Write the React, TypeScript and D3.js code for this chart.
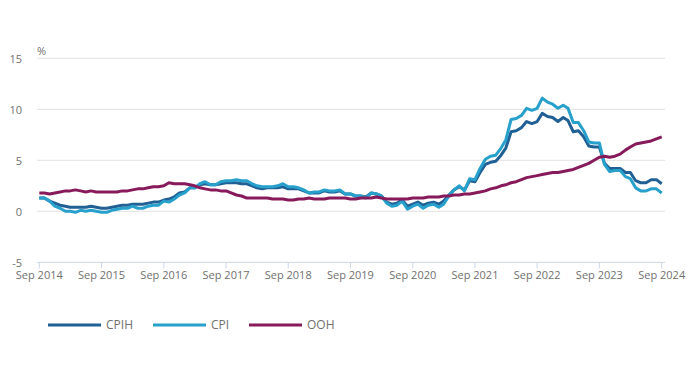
import React from 'react';
import * as d3 from 'd3';

// monthly annual rates, Sep 2014 .. Sep 2024
const cpih = [
	1.3, 1.3, 1.0, 0.8,
	0.6, 0.5, 0.4, 0.4, 0.4, 0.4, 0.5, 0.4, 0.3, 0.3, 0.4, 0.5,
	0.6, 0.6, 0.7, 0.7, 0.7, 0.8, 0.9, 0.9, 1.1, 1.2, 1.4, 1.8,
	1.9, 2.3, 2.3, 2.6, 2.7, 2.6, 2.6, 2.7, 2.8, 2.8, 2.8, 2.7,
	2.7, 2.5, 2.3, 2.2, 2.3, 2.3, 2.3, 2.4, 2.2, 2.2, 2.2, 2.0,
	1.8, 1.8, 1.8, 2.0, 1.9, 1.9, 2.0, 1.7, 1.7, 1.5, 1.5, 1.4,
	1.8, 1.7, 1.5, 0.9, 0.7, 0.8, 1.1, 0.5, 0.7, 0.9, 0.6, 0.8,
	0.9, 0.7, 1.0, 1.6, 2.1, 2.4, 2.1, 3.0, 2.9, 3.8, 4.6, 4.8,
	4.9, 5.5, 6.2, 7.8, 7.9, 8.2, 8.8, 8.6, 8.8, 9.6, 9.3, 9.2,
	8.8, 9.2, 8.9, 7.8, 7.9, 7.3, 6.4, 6.3, 6.3, 4.7, 4.2, 4.2,
	4.2, 3.8, 3.8, 3.0, 2.8, 2.8, 3.1, 3.1, 2.7,
];

const cpi = [
	1.3, 1.3, 1.0, 0.5,
	0.3, 0.0, 0.0, -0.1, 0.1, 0.0, 0.1, 0.0, -0.1, -0.1, 0.1, 0.2,
	0.3, 0.3, 0.5, 0.3, 0.3, 0.5, 0.6, 0.6, 1.0, 0.9, 1.2, 1.6,
	1.8, 2.3, 2.3, 2.7, 2.9, 2.6, 2.6, 2.9, 3.0, 3.0, 3.1, 3.0,
	3.0, 2.7, 2.5, 2.4, 2.4, 2.4, 2.5, 2.7, 2.4, 2.4, 2.3, 2.1,
	1.8, 1.9, 1.9, 2.1, 2.0, 2.0, 2.1, 1.7, 1.7, 1.5, 1.5, 1.3,
	1.8, 1.7, 1.5, 0.8, 0.5, 0.6, 1.0, 0.2, 0.5, 0.7, 0.3, 0.6,
	0.7, 0.4, 0.7, 1.5, 2.1, 2.5, 2.0, 3.2, 3.1, 4.2, 5.1, 5.4,
	5.5, 6.2, 7.0, 9.0, 9.1, 9.4, 10.1, 9.9, 10.1, 11.1, 10.7, 10.5,
	10.1, 10.4, 10.1, 8.7, 8.7, 7.9, 6.8, 6.7, 6.7, 4.6, 3.9, 4.0,
	4.0, 3.4, 3.2, 2.3, 2.0, 2.0, 2.2, 2.2, 1.8,
];

const ooh = [
	1.8, 1.8, 1.7, 1.8,
	1.9, 2.0, 2.0, 2.1, 2.0, 1.9, 2.0, 1.9, 1.9, 1.9, 1.9, 1.9,
	2.0, 2.0, 2.1, 2.2, 2.2, 2.3, 2.4, 2.4, 2.5, 2.8, 2.7, 2.7,
	2.7, 2.6, 2.5, 2.3, 2.2, 2.1, 2.1, 2.0, 2.0, 1.8, 1.6, 1.5,
	1.3, 1.3, 1.3, 1.3, 1.3, 1.2, 1.2, 1.2, 1.1, 1.1, 1.2, 1.2,
	1.3, 1.2, 1.2, 1.2, 1.3, 1.3, 1.3, 1.3, 1.2, 1.2, 1.3, 1.3,
	1.3, 1.4, 1.3, 1.2, 1.2, 1.2, 1.2, 1.2, 1.3, 1.3, 1.3, 1.4,
	1.4, 1.4, 1.5, 1.5, 1.6, 1.6, 1.7, 1.7, 1.8, 1.9, 2.0, 2.2,
	2.3, 2.5, 2.6, 2.8, 2.9, 3.1, 3.3, 3.4, 3.5, 3.6, 3.7, 3.8,
	3.8, 3.9, 4.0, 4.1, 4.3, 4.5, 4.7, 5.0, 5.3, 5.4, 5.3, 5.4,
	5.6, 6.0, 6.3, 6.6, 6.7, 6.8, 6.9, 7.1, 7.3,
];

const yTicks = [-5, 0, 5, 10, 15];
const months = d3.timeMonth.range(new Date(2014, 8, 1), new Date(2024, 9, 1));
const xTicks = d3.timeYear.range(new Date(2014, 0, 1), new Date(2025, 0, 1)).map((d) => new Date(d.getFullYear(), 8, 1));

const series = [
	{ name: 'CPIH', values: cpih, color: '#206095' },
	{ name: 'CPI', values: cpi, color: '#27a0cc' },
	{ name: 'OOH', values: ooh, color: '#871a5b' },
];

export default function App() {
	const width = 700;
	const height = 367;
	const margin = { top: 58.3, right: 38.3, bottom: 104.7, left: 39.3 };

	const xscale = d3
		.scaleTime()
		.domain([months[0], months[months.length - 1]])
		.range([margin.left, width - margin.right]);

	const yscale = d3
		.scaleLinear()
		.domain([-5, 15])
		.range([height - margin.bottom, margin.top]);

	const line = (vals: number[]) =>
		d3
			.line<number>()
			.x((d, i) => xscale(months[i]))
			.y((d) => yscale(d))(vals);

	const fmt = d3.timeFormat('%b %Y');
	const font = "'Open Sans', sans-serif";

	return (
		<svg
			width={width}
			height={height}
			style={{ position: 'absolute', left: 0, top: 0, fontFamily: font }}
		>
			<rect width={width} height={height} fill="#fff" />

			{/* grid */}
			{yTicks.map((t) =>
				t === -5 ? null : (
					<line key={t} x1={37} x2={665} y1={yscale(t)} y2={yscale(t)} stroke="#e2e2e2" strokeWidth={1} />
				)
			)}
			{yTicks.map((t) => (
				<text key={'l' + t} x={22} y={yscale(t)} dy="0.45em" textAnchor="end" fontSize={11} fill="#707070">
					{t}
				</text>
			))}
			<text x={37} y={yscale(15) - 3} fontSize={11} fill="#707070">%</text>

			{/* x axis */}
			<line x1={37} x2={665} y1={yscale(-5)} y2={yscale(-5)} stroke="#ccd6e8" strokeWidth={1} />
			{xTicks.map((d) => (
				<g key={d.getTime()} transform={`translate(${xscale(d)},${yscale(-5)})`}>
					<line y1={0} y2={6} stroke="#ccd6e8" />
					<text y={17} textAnchor="middle" fontSize={11} fill="#707070">
						{fmt(d)}
					</text>
				</g>
			))}

			{/* lines */}
			{series.map((s) => (
				<path
					key={s.name}
					d={line(s.values) || ''}
					fill="none"
					stroke={s.color}
					strokeWidth={3}
					strokeLinejoin="round"
				/>
			))}

			{/* legend */}
			{series.map((s, i) => (
				<g key={'lg' + s.name} transform={`translate(${48 + [0, 105, 201][i]},325)`}>
					<line x1={0} x2={53} y1={0} y2={0} stroke={s.color} strokeWidth={3} />
					<text x={58} dy="0.35em" fontSize={12} fill="#707070">
						{s.name}
					</text>
				</g>
			))}
		</svg>
	);
}
